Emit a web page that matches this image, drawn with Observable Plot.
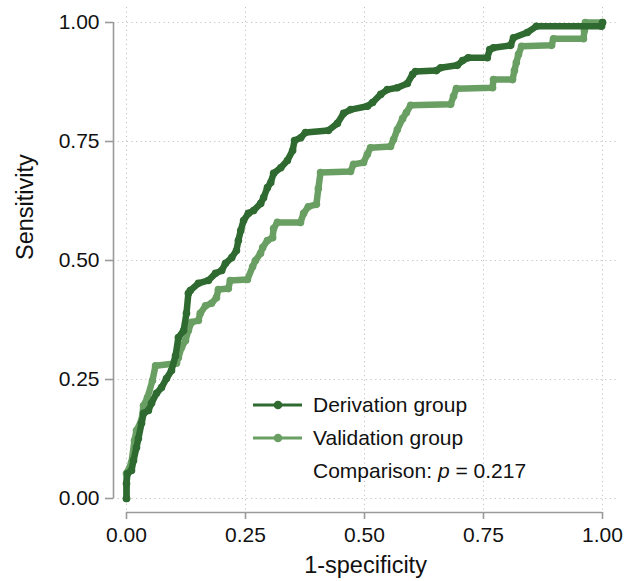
<!DOCTYPE html>
<html>
<head>
<meta charset="utf-8">
<script src="https://cdn.jsdelivr.net/npm/d3@7"></script>
<script src="https://cdn.jsdelivr.net/npm/@observablehq/plot@0.6"></script>
<style>
  html, body { margin: 0; padding: 0; background: #fff; }
  #wrap { position: relative; width: 635px; height: 581px; font-family: "Liberation Sans", Arial, Helvetica, sans-serif; }
  #legend { position: absolute; left: 253px; top: 388px; font-size: 21px; color: #111; }
  .item { display: flex; align-items: center; height: 33px; }
  .item svg { margin-right: 11px; }
  .note { height: 33px; display: flex; align-items: center; padding-left: 60px; }
</style>
</head>
<body>
<div id="wrap"><div id="legend"></div></div>
<script>
// ---- data ----
const seriesNames = ["Derivation group", "Validation group"];
const seriesColors = ["#2f6a30", "#6a9f63"];
const pValueLabel = "0.217";

const derivationX = [0, 0, 0.002, 0.0105, 0.0147, 0.021, 0.025, 0.0315, 0.036, 0.046, 0.0525, 0.063, 0.0735, 0.084, 0.0945, 0.103, 0.109, 0.120, 0.126, 0.130, 0.134, 0.151, 0.172, 0.187, 0.200, 0.208, 0.221, 0.231, 0.235, 0.240, 0.246, 0.256, 0.267, 0.282, 0.288, 0.296, 0.303, 0.309, 0.324, 0.338, 0.349, 0.353, 0.366, 0.376, 0.424, 0.443, 0.456, 0.471, 0.506, 0.517, 0.534, 0.548, 0.569, 0.590, 0.601, 0.607, 0.651, 0.660, 0.695, 0.706, 0.718, 0.758, 0.763, 0.771, 0.807, 0.813, 0.842, 0.861, 0.998, 1];
const derivationY = [0, 0.0315, 0.0525, 0.059, 0.080, 0.107, 0.126, 0.158, 0.179, 0.185, 0.200, 0.221, 0.233, 0.252, 0.269, 0.300, 0.338, 0.353, 0.389, 0.431, 0.437, 0.452, 0.458, 0.473, 0.479, 0.494, 0.506, 0.521, 0.542, 0.563, 0.584, 0.599, 0.605, 0.620, 0.632, 0.653, 0.664, 0.683, 0.695, 0.710, 0.731, 0.752, 0.758, 0.769, 0.773, 0.788, 0.809, 0.817, 0.824, 0.832, 0.849, 0.859, 0.863, 0.872, 0.891, 0.897, 0.899, 0.905, 0.910, 0.920, 0.926, 0.926, 0.943, 0.947, 0.952, 0.968, 0.979, 0.992, 0.992, 1];

const validationX = [0, 0, 0.0105, 0.0168, 0.021, 0.0315, 0.0357, 0.044, 0.0546, 0.061, 0.105, 0.109, 0.1155, 0.124, 0.130, 0.1366, 0.151, 0.155, 0.166, 0.1786, 0.189, 0.193, 0.214, 0.218, 0.254, 0.265, 0.271, 0.2815, 0.286, 0.296, 0.307, 0.309, 0.317, 0.3655, 0.372, 0.382, 0.399, 0.403, 0.4076, 0.4706, 0.477, 0.498, 0.506, 0.5126, 0.5546, 0.561, 0.569, 0.580, 0.588, 0.597, 0.681, 0.687, 0.693, 0.769, 0.771, 0.811, 0.815, 0.819, 0.8235, 0.830, 0.893, 0.897, 0.960, 0.962, 0.964, 1];
const validationY = [0, 0.0525, 0.0756, 0.122, 0.143, 0.164, 0.195, 0.212, 0.248, 0.279, 0.284, 0.296, 0.317, 0.332, 0.353, 0.370, 0.374, 0.389, 0.405, 0.410, 0.422, 0.439, 0.441, 0.458, 0.460, 0.487, 0.500, 0.515, 0.527, 0.542, 0.548, 0.567, 0.580, 0.580, 0.599, 0.613, 0.618, 0.651, 0.685, 0.687, 0.702, 0.706, 0.723, 0.737, 0.7395, 0.754, 0.775, 0.798, 0.811, 0.826, 0.828, 0.845, 0.861, 0.863, 0.880, 0.880, 0.899, 0.916, 0.933, 0.950, 0.952, 0.966, 0.966, 0.983, 1, 1];

const xTicks = [0, 0.25, 0.5, 0.75, 1];
const yTicks = [0, 0.25, 0.5, 0.75, 1];
const xTitle = "1-specificity";
const yTitle = "Sensitivity";

// ---- build ----
const toRows = (xs, ys) => xs.map((x, i) => ({x, y: ys[i]}));
const derivation = toRows(derivationX, derivationY);
const validation = toRows(validationX, validationY);

const W = 635, H = 581;
const mL = 113, mR = 18, mT = 7, mB = 69;
const xRange = [126, 602], yRange = [498, 22];
const axisGray = "#9a9a9a";
const gridGray = "#c2c2c2";
const font = "'Liberation Sans', Arial, Helvetica, sans-serif";

const chart = Plot.plot({
  width: W, height: H,
  marginLeft: mL, marginRight: mR, marginTop: mT, marginBottom: mB,
  style: {fontFamily: font, background: "white", overflow: "visible"},
  x: {domain: [0, 1], range: xRange},
  y: {domain: [0, 1], range: yRange},
  marks: [
    Plot.gridX(xTicks, {stroke: gridGray, strokeOpacity: 1, strokeDasharray: "1.2,3.4"}),
    Plot.gridY(yTicks, {stroke: gridGray, strokeOpacity: 1, strokeDasharray: "1.2,3.4"}),
    Plot.ruleX([0], {y1: 0, y2: 1, dx: mL - xRange[0], stroke: axisGray, strokeWidth: 1.6}),
    Plot.ruleY([0], {x1: 0, x2: 1, dy: (H - mB) - yRange[0], stroke: axisGray, strokeWidth: 1.6}),
    Plot.axisX(xTicks, {anchor: "bottom", tickSize: 7, tickPadding: 8, tickFormat: d3.format(".2f"),
      stroke: axisGray, strokeWidth: 1.6, fill: "#111", fontSize: 21, label: null}),
    Plot.axisY(yTicks, {anchor: "left", tickSize: 8, tickPadding: 6, tickFormat: d3.format(".2f"),
      stroke: axisGray, strokeWidth: 1.6, fill: "#111", fontSize: 21, label: null}),
    Plot.text([xTitle], {frameAnchor: "bottom", dy: 53, fontSize: 23.5, fill: "#111", lineAnchor: "middle"}),
    Plot.text([yTitle], {frameAnchor: "left", dx: -88, rotate: -90, fontSize: 23.5, fill: "#111", lineAnchor: "middle"}),
    Plot.line(validation, {x: "x", y: "y", stroke: seriesColors[1], strokeWidth: 6.5, strokeLinejoin: "round", strokeLinecap: "round"}),
    Plot.dot(validation, {x: "x", y: "y", r: 3.8, fill: seriesColors[1]}),
    Plot.line(derivation, {x: "x", y: "y", stroke: seriesColors[0], strokeWidth: 6.5, strokeLinejoin: "round", strokeLinecap: "round"}),
    Plot.dot(derivation, {x: "x", y: "y", r: 3.8, fill: seriesColors[0]})
  ]
});
document.getElementById("wrap").prepend(chart);

// ---- legend ----
const legend = document.getElementById("legend");
seriesNames.forEach((name, i) => {
  const row = document.createElement("div");
  row.className = "item";
  row.innerHTML = `<svg width="49" height="12"><line x1="0" x2="49" y1="6" y2="6" stroke="${seriesColors[i]}" stroke-width="3"/><circle cx="25" cy="6" r="4.3" fill="${seriesColors[i]}"/></svg><span>${name}</span>`;
  legend.appendChild(row);
});
const note = document.createElement("div");
note.className = "note";
note.innerHTML = `Comparison:&nbsp;<i>p</i>&nbsp;=&nbsp;${pValueLabel}`;
legend.appendChild(note);
</script>
</body>
</html>
